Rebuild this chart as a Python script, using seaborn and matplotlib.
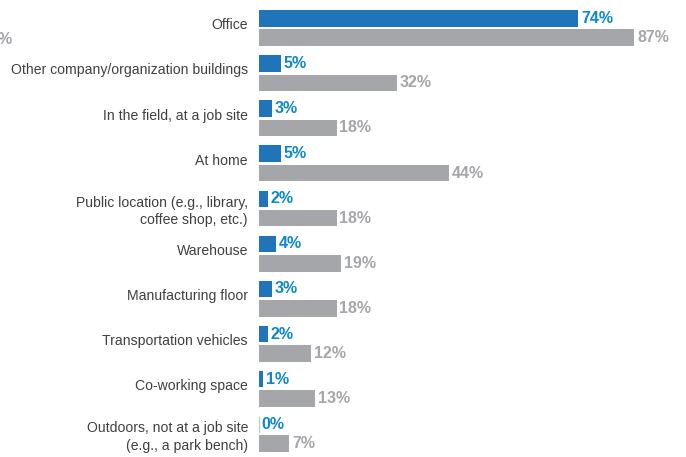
import pandas as pd
import matplotlib.pyplot as plt
import matplotlib.transforms as mtransforms
import seaborn as sns

# Work locations
locations = [
    "Office",
    "Other company/organization buildings",
    "In the field, at a job site",
    "At home",
    "Public location (e.g., library,\ncoffee shop, etc.)",
    "Warehouse",
    "Manufacturing floor",
    "Transportation vehicles",
    "Co-working space",
    "Outdoors, not at a job site\n(e.g., a park bench)",
]
primary = [74, 5, 3, 5, 2, 4, 3, 2, 1, 0]
any_use = [87, 32, 18, 44, 18, 19, 18, 12, 13, 7]
series = ["Primary", "Any"]

bar_colors = {"Primary": "#1F74BA", "Any": "#A5A6A9"}
label_colors = {"Primary": "#0C88CF", "Any": "#A5A6A9"}

df = pd.DataFrame({
    "Location": locations * 2,
    "Share": primary + any_use,
    "Series": [series[0]] * len(locations) + [series[1]] * len(locations),
})

sns.set_theme(style="white")
plt.rcParams["font.family"] = ["Liberation Sans", "DejaVu Sans"]

fig = plt.figure(figsize=(6.86, 4.57), dpi=100)
ax = fig.add_axes([259 / 686, 0.001, 427 / 686, 0.987])

sns.barplot(
    data=df, y="Location", x="Share", hue="Series", order=locations,
    hue_order=series, palette=bar_colors, orient="h", saturation=1,
    width=0.86, gap=0.15, legend=False, ax=ax, linewidth=0,
)

# zero-valued bars still show as a faint sliver
for patch in ax.containers[0]:
    if patch.get_width() == 0:
        patch.set_edgecolor("#A9CDEB")
        patch.set_linewidth(1.0)

for container, name in zip(ax.containers, series):
    ax.bar_label(
        container, labels=[f"{int(v)}%" for v in container.datavalues],
        padding=2, color=label_colors[name], fontsize=11.5, fontweight="bold",
    )

ax.set_xlim(0, 99)
ax.set_ylim(9.5, -0.5)
ax.set_xlabel("")
ax.set_ylabel("")
ax.set_xticks([])
ax.tick_params(axis="y", length=0, pad=8, labelsize=10.1, labelcolor="#404040")
shift_up = mtransforms.ScaledTranslation(0, 3 / 72, fig.dpi_scale_trans)
for lbl in ax.get_yticklabels():
    lbl.set_horizontalalignment("right")
    if "\n" in lbl.get_text():
        lbl.set_linespacing(1.3)
    else:
        lbl.set_transform(lbl.get_transform() + shift_up)
sns.despine(ax=ax, left=True, bottom=True)

# stray clipped label at the left edge of the source image
fig.text(-0.004, 1 - 39 / 457, "%", fontsize=11.5, fontweight="bold",
         color="#A5A6A9", va="center", ha="left")

fig.savefig("out.png", dpi=100)
